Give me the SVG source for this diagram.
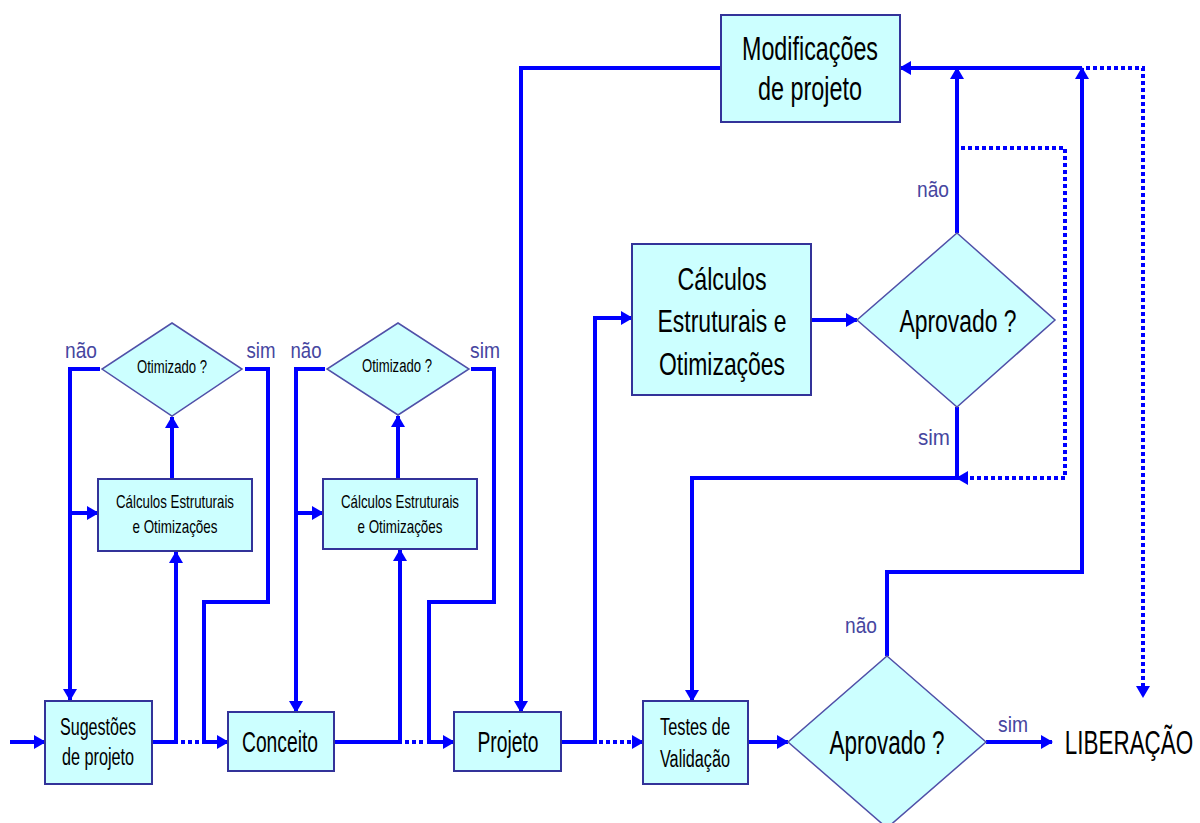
<svg xmlns="http://www.w3.org/2000/svg" width="1200" height="823" viewBox="0 0 1200 823">
  <defs>
    <marker id="arrow" viewBox="0 0 12 14" refX="11" refY="7" markerWidth="12" markerHeight="14" markerUnits="userSpaceOnUse" orient="auto">
      <path d="M0,0 L12,7 L0,14 Z" fill="#0000ff"/>
    </marker>
    <style>
      .box { fill: #ccffff; stroke: #333399; stroke-width: 2; }
      .dia { fill: #ccffff; stroke: #5050a8; stroke-width: 1.5; }
      .t { font-family: "Liberation Sans", Arial, sans-serif; fill: #000; text-anchor: middle; }
      .lbl { font-family: "Liberation Sans", Arial, sans-serif; fill: #4646a0; font-size: 22px; text-anchor: middle; }
      .ln { fill: none; stroke: #0000ff; stroke-width: 4; stroke-linejoin: miter; }
      .dot { fill: none; stroke: #0000ff; stroke-width: 4; stroke-dasharray: 4 3; }
      .arr { marker-end: url(#arrow); }
    </style>
  </defs>

  <rect width="1200" height="823" fill="#ffffff"/>

  <!-- connectors -->
  <g id="connectors">
    <!-- first loop -->
    <path class="ln arr" d="M10,742 H45"/>
    <path class="ln arr" d="M152,742 H176 V552"/>
    <path class="dot" d="M181,742 H199"/>
    <path class="ln arr" d="M100,369 H70 V700"/>
    <path class="ln arr" d="M70,513 H98"/>
    <path class="ln arr" d="M172,479 V417"/>
    <path class="ln arr" d="M245,369 H268 V602 H204 V742 H228"/>

    <!-- second loop -->
    <path class="ln arr" d="M334,742 H400 V550"/>
    <path class="dot" d="M405,742 H423"/>
    <path class="ln arr" d="M325,369 H296 V712"/>
    <path class="ln arr" d="M296,513 H323"/>
    <path class="ln arr" d="M398,479 V416"/>
    <path class="ln arr" d="M471,369 H494 V602 H429 V742 H454"/>

    <!-- design stage -->
    <path class="ln arr" d="M561,742 H595 V318 H632"/>
    <path class="dot arr" d="M599,742 H643"/>
    <path class="ln arr" d="M721,68 H521 V712"/>
    <path class="ln arr" d="M811,320 H857"/>
    <path class="ln arr" d="M957,233 V68"/>
    <path class="ln arr" d="M1082,68 H900"/>
    <path class="dot arr" d="M1086,68 H1143 V697"/>
    <path class="dot arr" d="M961,148 H1065 V478 H957"/>
    <path class="ln arr" d="M957,407 V478 H692 V701"/>
    <path class="ln arr" d="M748,742 H788"/>
    <path class="ln arr" d="M887,656 V572 H1082 V68"/>
    <path class="ln arr" d="M986,742 H1052"/>
  </g>

  <!-- connector labels -->
  <g id="labels">
    <text class="lbl" x="81" y="358" textLength="32" lengthAdjust="spacingAndGlyphs">não</text>
    <text class="lbl" x="261" y="358" textLength="29" lengthAdjust="spacingAndGlyphs">sim</text>
    <text class="lbl" x="306" y="358" textLength="31" lengthAdjust="spacingAndGlyphs">não</text>
    <text class="lbl" x="485" y="358" textLength="30" lengthAdjust="spacingAndGlyphs">sim</text>
    <text class="lbl" x="933" y="197" textLength="32" lengthAdjust="spacingAndGlyphs">não</text>
    <text class="lbl" x="934" y="445" textLength="32" lengthAdjust="spacingAndGlyphs">sim</text>
    <text class="lbl" x="861" y="633" textLength="32" lengthAdjust="spacingAndGlyphs">não</text>
    <text class="lbl" x="1013" y="732" textLength="30" lengthAdjust="spacingAndGlyphs">sim</text>
  </g>

  <!-- nodes -->
  <g id="sugestoes">
    <rect class="box" x="45" y="701" width="107" height="83"/>
    <text class="t" x="98" y="735" font-size="23" textLength="76" lengthAdjust="spacingAndGlyphs">Sugestões</text>
    <text class="t" x="98" y="765" font-size="23" textLength="72" lengthAdjust="spacingAndGlyphs">de projeto</text>
  </g>

  <g id="calculos1">
    <rect class="box" x="98" y="479" width="154" height="72"/>
    <text class="t" x="175" y="508" font-size="19" textLength="118" lengthAdjust="spacingAndGlyphs">Cálculos Estruturais</text>
    <text class="t" x="175" y="533" font-size="19" textLength="85" lengthAdjust="spacingAndGlyphs">e Otimizações</text>
  </g>

  <g id="otimizado1">
    <polygon class="dia" points="172,323 242,369 172,416 102,369"/>
    <text class="t" x="172" y="373" font-size="18" textLength="70" lengthAdjust="spacingAndGlyphs">Otimizado ?</text>
  </g>

  <g id="conceito">
    <rect class="box" x="228" y="712" width="106" height="59"/>
    <text class="t" x="280" y="752" font-size="29" textLength="76" lengthAdjust="spacingAndGlyphs">Conceito</text>
  </g>

  <g id="calculos2">
    <rect class="box" x="323" y="479" width="154" height="70"/>
    <text class="t" x="400" y="508" font-size="19" textLength="118" lengthAdjust="spacingAndGlyphs">Cálculos Estruturais</text>
    <text class="t" x="400" y="533" font-size="19" textLength="85" lengthAdjust="spacingAndGlyphs">e Otimizações</text>
  </g>

  <g id="otimizado2">
    <polygon class="dia" points="398,323 469,369 398,415 327,369"/>
    <text class="t" x="397" y="372" font-size="18" textLength="70" lengthAdjust="spacingAndGlyphs">Otimizado ?</text>
  </g>

  <g id="projeto">
    <rect class="box" x="454" y="712" width="107" height="59"/>
    <text class="t" x="508" y="752" font-size="29" textLength="61" lengthAdjust="spacingAndGlyphs">Projeto</text>
  </g>

  <g id="modificacoes">
    <rect class="box" x="721" y="15" width="179" height="107"/>
    <text class="t" x="810" y="60" font-size="33" textLength="136" lengthAdjust="spacingAndGlyphs">Modificações</text>
    <text class="t" x="810" y="100" font-size="33" textLength="104" lengthAdjust="spacingAndGlyphs">de projeto</text>
  </g>

  <g id="calculos3">
    <rect class="box" x="632" y="244" width="179" height="151"/>
    <text class="t" x="722" y="290" font-size="32" textLength="89" lengthAdjust="spacingAndGlyphs">Cálculos</text>
    <text class="t" x="722" y="332" font-size="32" textLength="129" lengthAdjust="spacingAndGlyphs">Estruturais e</text>
    <text class="t" x="722" y="375" font-size="32" textLength="126" lengthAdjust="spacingAndGlyphs">Otimizações</text>
  </g>

  <g id="aprovado1">
    <polygon class="dia" points="957,233 1055,320 957,407 857,320"/>
    <text class="t" x="958" y="332" font-size="31" textLength="117" lengthAdjust="spacingAndGlyphs">Aprovado ?</text>
  </g>

  <g id="testes">
    <rect class="box" x="643" y="701" width="105" height="83"/>
    <text class="t" x="695" y="735" font-size="23" textLength="70" lengthAdjust="spacingAndGlyphs">Testes de</text>
    <text class="t" x="695" y="767" font-size="23" textLength="70" lengthAdjust="spacingAndGlyphs">Validação</text>
  </g>

  <g id="aprovado2">
    <polygon class="dia" points="887,656 986,742 887,828 788,742"/>
    <text class="t" x="887" y="754" font-size="33" textLength="115" lengthAdjust="spacingAndGlyphs">Aprovado ?</text>
  </g>

  <g id="liberacao">
    <text class="t" transform="translate(1129,754) scale(0.68,1)" font-size="33">LIBERAÇÃO</text>
  </g>
</svg>
